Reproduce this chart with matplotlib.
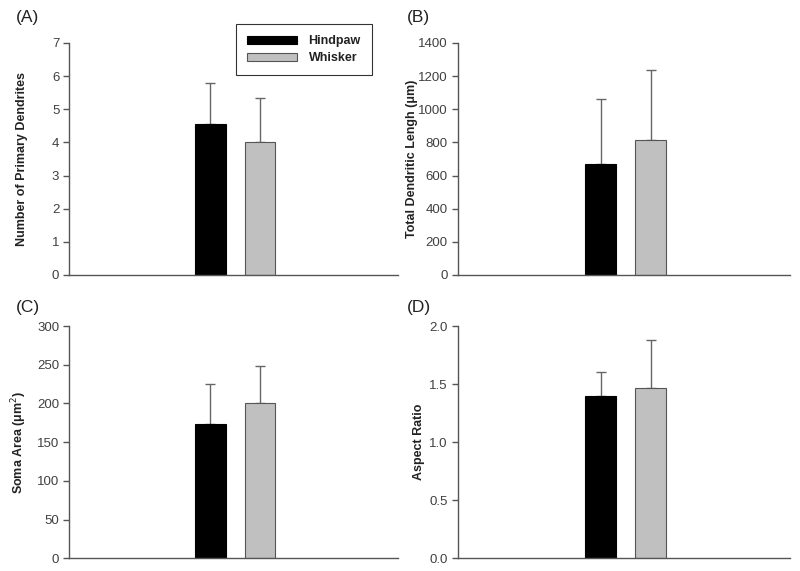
import numpy as np
import matplotlib
matplotlib.use('Agg')
import matplotlib.pyplot as plt
from matplotlib.patches import Patch

plt.rcParams['font.family'] = ['Liberation Sans', 'DejaVu Sans']

groups = ['Hindpaw', 'Whisker']
panel_labels = ['(A)', '(B)', '(C)', '(D)']
ylabels = ['Number of Primary Dendrites',
           'Total Dendritic Lengh (\u03bcm)',
           'Soma Area (\u03bcm$^2$)',
           'Aspect Ratio']

dendrites_mean = [4.56, 4.0]
dendrites_sd = [1.22, 1.34]
length_mean = [671, 815]
length_sd = [393, 424]
soma_mean = [173, 201]
soma_sd = [52, 48]
aspect_mean = [1.40, 1.47]
aspect_sd = [0.20, 0.41]

means = [dendrites_mean, length_mean, soma_mean, aspect_mean]
sds = [dendrites_sd, length_sd, soma_sd, aspect_sd]
yticks = [np.arange(0, 8, 1), np.arange(0, 1401, 200),
          np.arange(0, 301, 50), np.arange(0, 2.01, 0.5)]
tick_fmt = ['{:.0f}', '{:.0f}', '{:.0f}', '{:.1f}']

bar_colors = ['black', '#c0c0c0']
edge_colors = ['black', '#555555']
axis_col = '#555555'

fig = plt.figure(figsize=(8, 5.71), dpi=100)
rects = [[0.0863, 0.5184, 0.411, 0.4063],
         [0.572, 0.5184, 0.416, 0.4063],
         [0.0863, 0.0222, 0.411, 0.4068],
         [0.572, 0.0222, 0.416, 0.4068]]
# panel letter positions (figure fraction) and y label x (axes fraction)
letter_xy = [(0.02, 0.9694), (0.509, 0.9694), (0.02, 0.4606), (0.509, 0.4606)]
label_x = [-0.125, -0.119, -0.122, -0.097]

xpos = [0.43, 0.58]
width = 0.092

for i in range(4):
    ax = fig.add_axes(rects[i])
    for j in range(2):
        ax.bar(xpos[j], means[i][j], width, color=bar_colors[j],
               edgecolor=edge_colors[j], linewidth=0.8, zorder=2)
        ax.errorbar(xpos[j], means[i][j], yerr=[[0], [sds[i][j]]],
                    fmt='none', ecolor='#666666', elinewidth=1.0,
                    capsize=3.5, capthick=1.0, zorder=1)
    ax.set_xlim(0, 1)
    ax.set_ylim(yticks[i][0], yticks[i][-1])
    ax.set_yticks(yticks[i])
    ax.set_yticklabels([tick_fmt[i].format(v) for v in yticks[i]])
    ax.set_xticks([])
    for s in ['top', 'right']:
        ax.spines[s].set_visible(False)
    for s in ['left', 'bottom']:
        ax.spines[s].set_color(axis_col)
        ax.spines[s].set_linewidth(1.0)
    ax.spines['bottom'].set_zorder(3)
    ax.tick_params(axis='y', direction='out', length=4, width=1.0,
                   color=axis_col, labelcolor='#404040', labelsize=9.5, pad=3)
    ax.set_ylabel(ylabels[i], fontsize=9, fontweight='bold', color='#222222')
    ax.yaxis.set_label_coords(label_x[i], 0.5)
    fig.text(letter_xy[i][0], letter_xy[i][1], panel_labels[i],
             fontsize=12.5, color='#222222', va='center', ha='left')
    if i == 0:
        handles = [Patch(facecolor=bar_colors[k], edgecolor=edge_colors[k],
                         linewidth=0.8) for k in range(2)]
        leg = ax.legend(handles, groups, loc='upper left',
                        bbox_to_anchor=(0.508, 1.082), frameon=True,
                        fancybox=False, edgecolor='black', handlelength=4.0,
                        handleheight=0.56, prop={'size': 9, 'weight': 'bold'},
                        borderpad=0.9, labelspacing=0.4, handletextpad=0.9,
                        borderaxespad=0)
        leg.get_frame().set_linewidth(0.8)
        for t in leg.get_texts():
            t.set_color('#222222')

fig.savefig('out.png', dpi=100)
